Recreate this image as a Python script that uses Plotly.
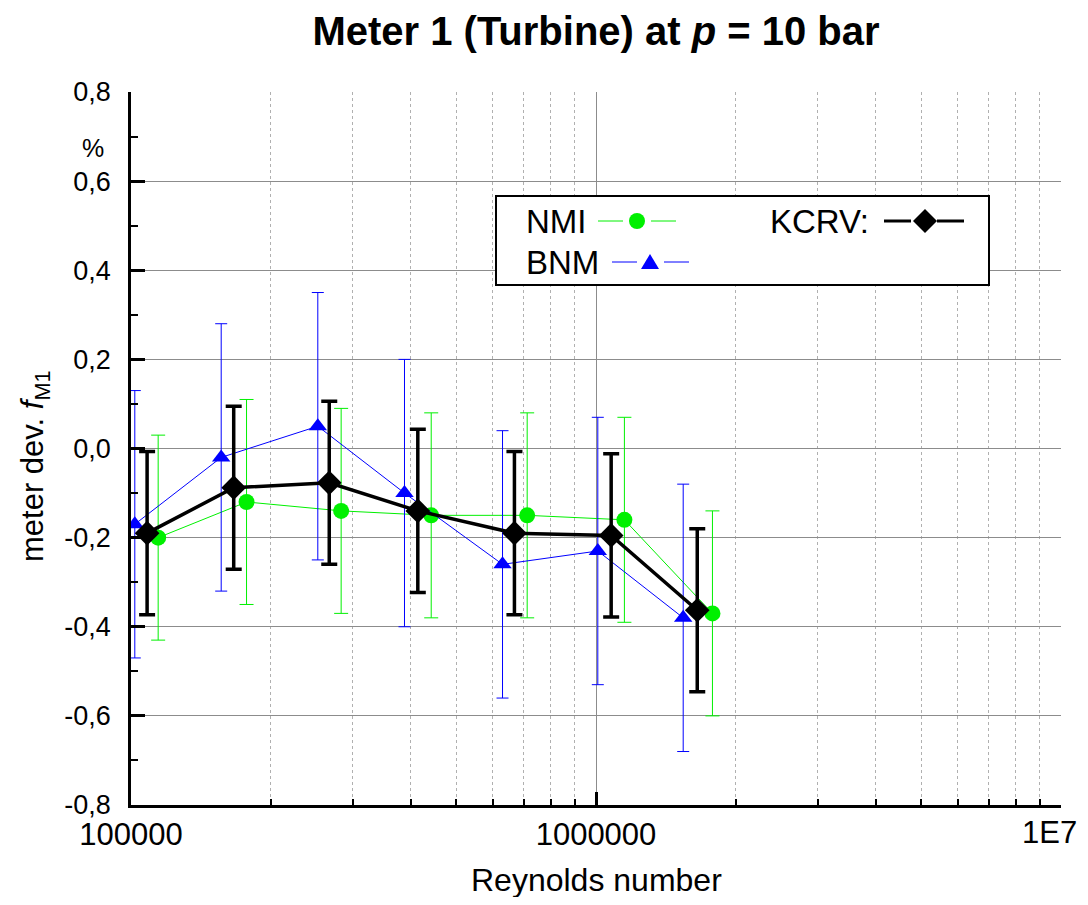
import plotly.graph_objects as go

# ---------------- data ----------------
nmi_re = [114400, 177200, 283100, 442200, 711200, 1151000, 1780000]
nmi_dev = [-0.20, -0.12, -0.14, -0.15, -0.15, -0.16, -0.37]
nmi_unc = [0.23, 0.23, 0.23, 0.23, 0.23, 0.23, 0.23]

bnm_re = [101900, 156300, 252200, 387400, 629500, 1009000, 1540000]
bnm_dev = [-0.17, -0.02, 0.05, -0.10, -0.26, -0.23, -0.38]
bnm_unc = [0.30, 0.30, 0.30, 0.30, 0.30, 0.30, 0.30]

kcrv_re = [108300, 166300, 266900, 413800, 667700, 1078000, 1651000]
kcrv_dev = [-0.19, -0.088, -0.077, -0.14, -0.19, -0.195, -0.363]
kcrv_unc = [0.183, 0.183, 0.183, 0.183, 0.183, 0.183, 0.183]

x_tickvals = [1e5, 1e6, 1e7]
x_ticktext = ["100000", "1000000", ""]   # last label drawn separately so it is not clipped
x_last_label = "1E7"
x_minorvals = [2e5, 3e5, 4e5, 5e5, 6e5, 7e5, 8e5, 9e5, 2e6, 3e6, 4e6, 5e6, 6e6, 7e6, 8e6, 9e6]
y_tickvals = [-0.8, -0.6, -0.4, -0.2, 0.0, 0.2, 0.4, 0.6, 0.8]
y_ticktext = ["-0,8", "-0,6", "-0,4", "-0,2", "0,0", "0,2", "0,4", "0,6", "0,8"]

GREEN = "#00f000"
BLUE = "#0000ff"
BLACK = "#000000"
FONT = "Liberation Sans"

# page has an 8px body margin; figure sized to fit the window exactly
OFF = 8
W, H = 1072, 889
ML, MR, MT, MB = 123, 19, 84, 92
PW, PH = W - ML - MR, H - MT - MB


def px(xp):  # page pixel -> paper x
    return (xp - OFF - ML) / PW


def py(yp):  # page pixel -> paper y
    return (H - MB - (yp - OFF)) / PH


fig = go.Figure()

fig.add_trace(go.Scatter(
    x=nmi_re, y=nmi_dev, mode="lines+markers", name="NMI",
    line=dict(color=GREEN, width=1),
    marker=dict(symbol="circle", size=16, color=GREEN),
    error_y=dict(type="data", array=nmi_unc, color=GREEN, thickness=1, width=7),
))
fig.add_trace(go.Scatter(
    x=bnm_re, y=bnm_dev, mode="lines+markers", name="BNM",
    line=dict(color=BLUE, width=1),
    marker=dict(symbol="triangle-up", size=16, color=BLUE),
    error_y=dict(type="data", array=bnm_unc, color=BLUE, thickness=1, width=6),
))
fig.add_trace(go.Scatter(
    x=kcrv_re, y=kcrv_dev, mode="lines+markers", name="KCRV",
    line=dict(color=BLACK, width=3.5),
    marker=dict(symbol="diamond", size=19, color=BLACK),
    error_y=dict(type="data", array=kcrv_unc, color=BLACK, thickness=3.5, width=8),
))

# ---------------- legend (drawn manually: text left, sample right) ----------------
shapes = []
annotations = []
shapes.append(dict(type="rect", xref="paper", yref="paper",
                   x0=px(496), x1=px(989), y0=py(285), y1=py(196),
                   line=dict(color="black", width=2), fillcolor="white", layer="above"))


def legend_entry(label, tx, ty, l0, l1, mx, r0, r1, color, lw, marker):
    annotations.append(dict(text=label, xref="paper", yref="paper", x=px(tx), y=py(ty),
                            xanchor="left", yanchor="middle", showarrow=False,
                            font=dict(family=FONT, size=33, color="black")))
    for a, b in ((l0, l1), (r0, r1)):
        shapes.append(dict(type="line", xref="paper", yref="paper", x0=px(a), x1=px(b),
                           y0=py(ty), y1=py(ty), line=dict(color=color, width=lw), layer="above"))
    base = dict(xref="paper", yref="paper", xsizemode="pixel", ysizemode="pixel",
                xanchor=px(mx), yanchor=py(ty), fillcolor=color,
                line=dict(color=color, width=0), layer="above")
    if marker == "circle":
        shapes.append(dict(type="circle", x0=-8, x1=8, y0=-8, y1=8, **base))
    elif marker == "triangle":
        shapes.append(dict(type="path", path="M -9,-7 L 9,-7 L 0,8 Z", **base))
    else:
        shapes.append(dict(type="path", path="M -12,0 L 0,12 L 12,0 L 0,-12 Z", **base))


legend_entry("NMI", 524, 221, 598, 623, 637, 651, 676, GREEN, 1, "circle")
legend_entry("BNM", 524, 262, 612, 637, 650, 664, 689, BLUE, 1, "triangle")
legend_entry("KCRV:", 768, 221, 884, 911, 925, 937, 964, BLACK, 3, "diamond")

# ---------------- axis texts ----------------
annotations.append(dict(text="meter dev. <i>f</i><sub>M1</sub>", xref="paper", yref="paper",
                        x=px(35), y=py(466), xanchor="center", yanchor="middle",
                        textangle=-90, showarrow=False,
                        font=dict(family=FONT, size=31, color="black")))
annotations.append(dict(text="%", xref="paper", yref="paper", x=px(93), y=py(148),
                        xanchor="center", yanchor="middle", showarrow=False,
                        font=dict(family=FONT, size=25, color="black")))
annotations.append(dict(text="Reynolds number", xref="paper", yref="paper", x=0.5, y=py(880),
                        xanchor="center", yanchor="middle", showarrow=False,
                        font=dict(family=FONT, size=32, color="black")))
annotations.append(dict(text=x_last_label, xref="paper", yref="paper", x=px(1079), y=py(832),
                        xanchor="right", yanchor="middle", showarrow=False,
                        font=dict(family=FONT, size=31, color="black")))

fig.update_layout(
    width=W, height=H,
    margin=dict(l=ML, r=MR, t=MT, b=MB),
    paper_bgcolor="white", plot_bgcolor="white",
    showlegend=False,
    font=dict(family=FONT, color="black"),
    title=dict(text="<b>Meter 1 (Turbine) at <i>p</i> = 10 bar</b>", x=0.5, xref="paper",
               xanchor="center", y=1 - (31 - OFF) / H, yanchor="middle",
               font=dict(family=FONT, size=40, color="black")),
    shapes=shapes, annotations=annotations,
)

fig.update_xaxes(
    type="log", range=[5, 7],
    tickvals=x_tickvals, ticktext=x_ticktext,
    ticks="inside", ticklen=13, tickwidth=2.5, tickcolor="black",
    showline=True, linecolor="black", linewidth=2.5,
    showgrid=True, gridcolor="#8c8c8c", gridwidth=1,
    tickfont=dict(family=FONT, size=31, color="black"),
    ticklabelstandoff=0,
    zeroline=False,
    minor=dict(tickmode="array", tickvals=x_minorvals,
               ticks="inside", ticklen=6, tickwidth=1.5, tickcolor="black",
               showgrid=True, gridcolor="#b0b0b0", griddash="dot", gridwidth=1),
)
fig.update_yaxes(
    range=[-0.8, 0.8],
    tickvals=y_tickvals, ticktext=y_ticktext,
    ticks="inside", ticklen=14, tickwidth=2.5, tickcolor="black",
    showline=True, linecolor="black", linewidth=2.5,
    showgrid=True, gridcolor="#8c8c8c", gridwidth=1,
    tickfont=dict(family=FONT, size=27, color="black"),
    ticklabelstandoff=12,
    zeroline=False,
    minor=dict(dtick=0.1, ticks="inside", ticklen=7, tickwidth=2, tickcolor="black", showgrid=False),
)

fig.write_html("out.html", config={"displayModeBar": False})
